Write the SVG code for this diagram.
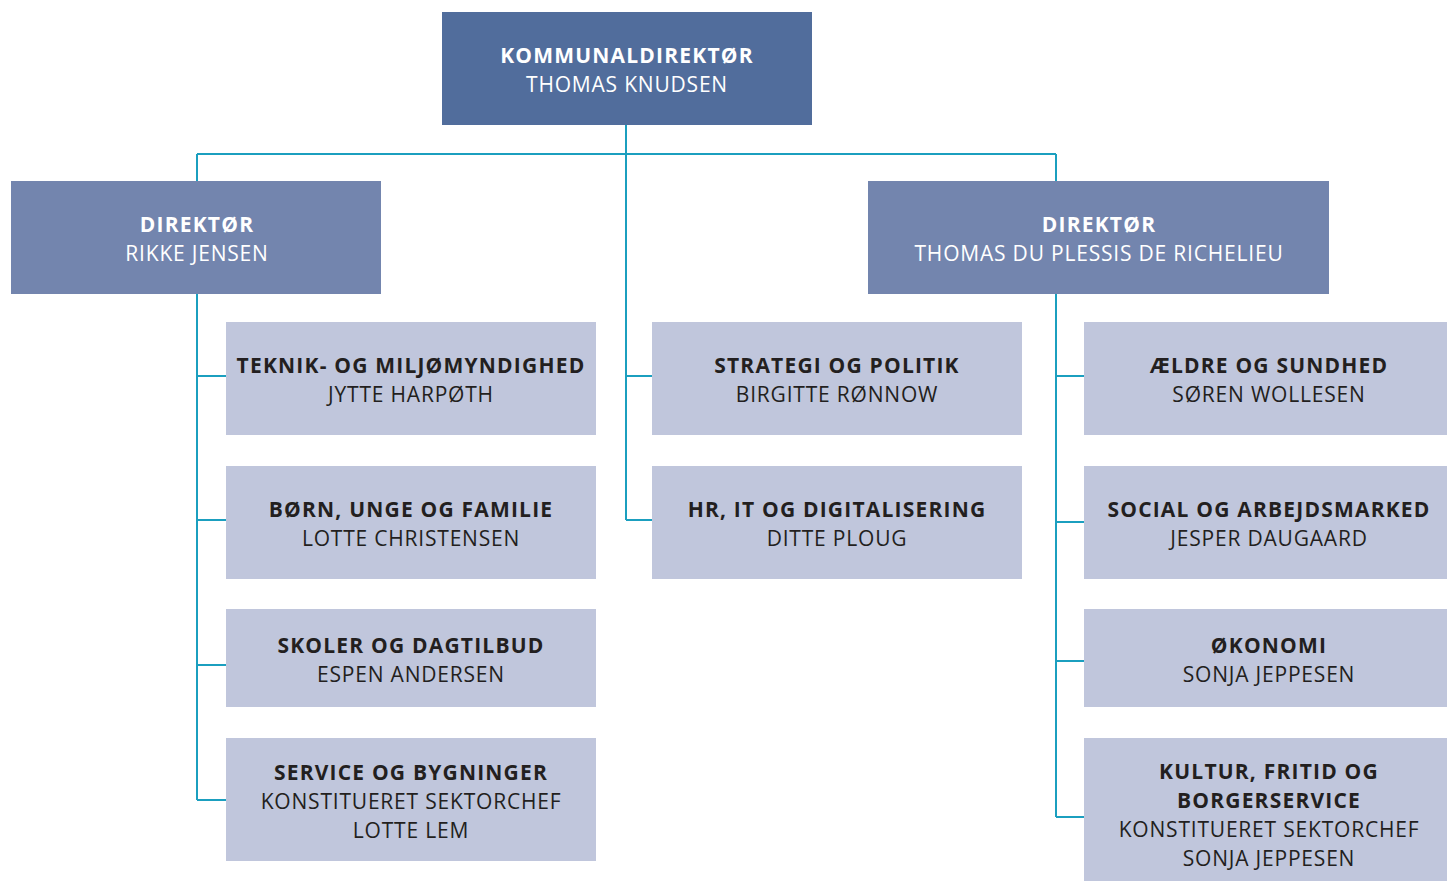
<svg xmlns="http://www.w3.org/2000/svg" width="1447" height="881" viewBox="0 0 1447 881">
<style>
.top{fill:#516d9c}
.dir{fill:#7385ae}
.sub{fill:#c0c6dc}
text{font-family:"Open Sans","Noto Sans","Liberation Sans",sans-serif;font-size:21px;text-anchor:middle;letter-spacing:0.8px}
.b{font-weight:700;letter-spacing:1.2px}
.w{fill:#ffffff}
.k{fill:#231f20}
.con{stroke:#1b9fbf;stroke-width:2;fill:none}
</style>
<rect width="1447" height="881" fill="#ffffff"/>
<g id="connectors">
<path class="con" d="M626 125V520M197 154H1056M197 154V181M1056 154V181"/>
<path class="con" d="M197 294V800M197 376H226M197 520H226M197 665H226M197 800H226"/>
<path class="con" d="M626 376H652M626 520H652"/>
<path class="con" d="M1056 294V817M1056 376H1084M1056 522H1084M1056 661H1084M1056 817H1084"/>
</g>
<g id="kommunaldirektor">
<rect class="top" x="442" y="12" width="370" height="113"/>
<text class="b w" x="627" y="63">KOMMUNALDIREKTØR</text>
<text class="w" x="627" y="92">THOMAS KNUDSEN</text>
</g>
<g id="direktor-rikke">
<rect class="dir" x="11" y="181" width="370" height="113"/>
<text class="b w" x="197" y="232">DIREKTØR</text>
<text class="w" x="197" y="261">RIKKE JENSEN</text>
</g>
<g id="direktor-thomas">
<rect class="dir" x="868" y="181" width="461" height="113"/>
<text class="b w" x="1099" y="232">DIREKTØR</text>
<text class="w" x="1099" y="261">THOMAS DU PLESSIS DE RICHELIEU</text>
</g>
<g id="teknik">
<rect class="sub" x="226" y="322" width="370" height="113"/>
<text class="b k" x="411" y="373">TEKNIK- OG MILJØMYNDIGHED</text>
<text class="k" x="411" y="402">JYTTE HARPØTH</text>
</g>
<g id="born">
<rect class="sub" x="226" y="466" width="370" height="113"/>
<text class="b k" x="411" y="517">BØRN, UNGE OG FAMILIE</text>
<text class="k" x="411" y="546">LOTTE CHRISTENSEN</text>
</g>
<g id="skoler">
<rect class="sub" x="226" y="609" width="370" height="98"/>
<text class="b k" x="411" y="653">SKOLER OG DAGTILBUD</text>
<text class="k" x="411" y="682">ESPEN ANDERSEN</text>
</g>
<g id="service">
<rect class="sub" x="226" y="738" width="370" height="123"/>
<text class="b k" x="411" y="780">SERVICE OG BYGNINGER</text>
<text class="k" x="411" y="809">KONSTITUERET SEKTORCHEF</text>
<text class="k" x="411" y="838">LOTTE LEM</text>
</g>
<g id="strategi">
<rect class="sub" x="652" y="322" width="370" height="113"/>
<text class="b k" x="837" y="373">STRATEGI OG POLITIK</text>
<text class="k" x="837" y="402">BIRGITTE RØNNOW</text>
</g>
<g id="hr">
<rect class="sub" x="652" y="466" width="370" height="113"/>
<text class="b k" x="837" y="517">HR, IT OG DIGITALISERING</text>
<text class="k" x="837" y="546">DITTE PLOUG</text>
</g>
<g id="aeldre">
<rect class="sub" x="1084" y="322" width="363" height="113"/>
<text class="b k" x="1269" y="373">ÆLDRE OG SUNDHED</text>
<text class="k" x="1269" y="402">SØREN WOLLESEN</text>
</g>
<g id="social">
<rect class="sub" x="1084" y="466" width="363" height="113"/>
<text class="b k" x="1269" y="517">SOCIAL OG ARBEJDSMARKED</text>
<text class="k" x="1269" y="546">JESPER DAUGAARD</text>
</g>
<g id="okonomi">
<rect class="sub" x="1084" y="609" width="363" height="98"/>
<text class="b k" x="1269" y="653">ØKONOMI</text>
<text class="k" x="1269" y="682">SONJA JEPPESEN</text>
</g>
<g id="kultur">
<rect class="sub" x="1084" y="738" width="363" height="143"/>
<text class="b k" x="1269" y="779">KULTUR, FRITID OG</text>
<text class="b k" x="1269" y="808">BORGERSERVICE</text>
<text class="k" x="1269" y="837">KONSTITUERET SEKTORCHEF</text>
<text class="k" x="1269" y="866">SONJA JEPPESEN</text>
</g>
</svg>
